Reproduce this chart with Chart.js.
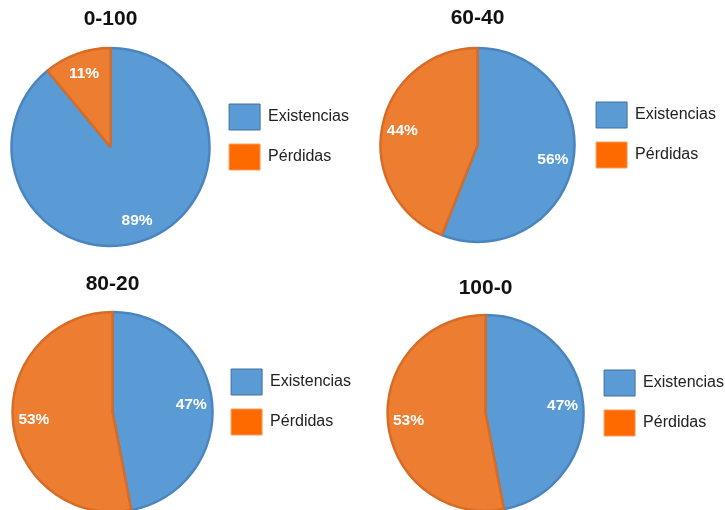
<!DOCTYPE html>
<html>
<head>
<meta charset="utf-8">
<script src="https://cdn.jsdelivr.net/npm/chart.js@4/dist/chart.umd.min.js"></script>
<style>
html,body{margin:0;padding:0;background:#fff;overflow:hidden}
#wrap{position:relative;width:725px;height:510px;overflow:hidden}
#wrap canvas{position:absolute}
</style>
</head>
<body>
<div id="wrap">
  <canvas id="c0" width="362" height="266"></canvas>
  <canvas id="c1" width="362" height="266"></canvas>
  <canvas id="c2" width="362" height="266"></canvas>
  <canvas id="c3" width="362" height="266"></canvas>
</div>
<script>
// datos de cada gráfico (porcentajes)
const titles=["0-100","60-40","80-20","100-0"];
const categories=["Existencias","Pérdidas"];
const existencias=[89,56,47,47];
const perdidas=[11,44,53,53];

const sliceColors=["#5b9bd5","#ed7d31"];
const sliceBorders=["#4a85c0","#d66c26"];
const legendColors=["#5b9bd5","#ff6a00"];
const legendBorders=["#41719c","#f4a060"];

// posición de cada lienzo, radio y ajuste del título
const boxes=[
  {left:0,  top:0,   r:99, shift:1},
  {left:367,top:-2,  r:97, shift:2},
  {left:2,  top:265, r:100,shift:1},
  {left:375,top:266, r:98, shift:4}
];

const FONT='"Liberation Sans", Arial, sans-serif';

/* etiquetas de porcentaje dentro de cada sector */
const pctLabels={
  id:"pctLabels",
  afterDatasetsDraw(chart){
    const ctx=chart.ctx,meta=chart.getDatasetMeta(0),vals=chart.data.datasets[0].data;
    ctx.save();
    ctx.fillStyle="#fff";
    ctx.font="bold 15.5px "+FONT;
    ctx.textAlign="center";ctx.textBaseline="middle";
    meta.data.forEach((arc,i)=>{
      const {x,y,startAngle,endAngle,outerRadius}=arc.getProps(["x","y","startAngle","endAngle","outerRadius"],true);
      const mid=(startAngle+endAngle)/2,rr=outerRadius*0.79;
      ctx.fillText(vals[i]+"%",x+Math.cos(mid)*rr,y+Math.sin(mid)*rr);
    });
    ctx.restore();
  }
};

titles.forEach((t,k)=>{
  const b=boxes[k];
  const cvs=document.getElementById("c"+k);
  cvs.style.left=b.left+"px";cvs.style.top=b.top+"px";
  new Chart(cvs.getContext("2d"),{
    type:"pie",
    data:{labels:categories,datasets:[{
      data:[existencias[k],perdidas[k]],
      backgroundColor:sliceColors,borderColor:sliceBorders,borderWidth:2.5
    }]},
    options:{
      responsive:false,animation:false,radius:b.r,clip:false,
      layout:{padding:{top:8,bottom:0,left:6,right:3}},
      plugins:{
        title:{display:true,text:t,fullSize:false,color:"#111",
          font:{family:FONT,size:21,weight:"bold",lineHeight:20/21},
          padding:{top:b.shift,bottom:-b.shift}},
        legend:{position:"right",align:"center",
          labels:{boxWidth:31,boxHeight:26,padding:14,color:"#222",
            font:{family:FONT,size:16},
            generateLabels(chart){
              return Chart.overrides.pie.plugins.legend.labels.generateLabels(chart).map((it,i)=>{
                it.fillStyle=legendColors[i];it.strokeStyle=legendBorders[i];it.lineWidth=1;
                return it;
              });
            }}},
        tooltip:{enabled:false}
      }
    },
    plugins:[pctLabels]
  });
});
</script>
</body>
</html>
